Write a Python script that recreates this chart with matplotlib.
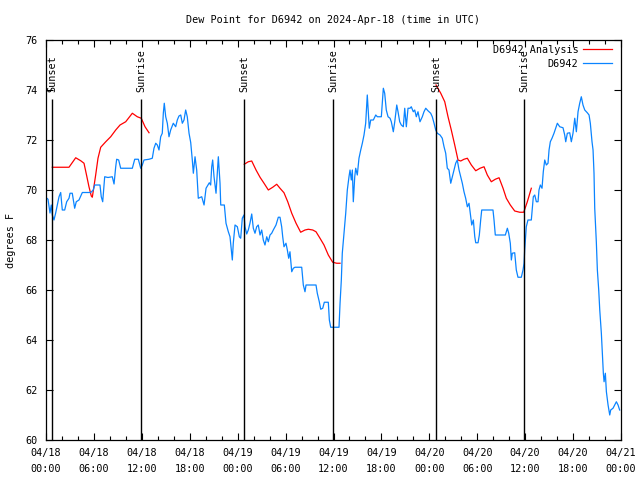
import matplotlib
matplotlib.use("Agg")
import matplotlib.pyplot as plt
from matplotlib.ticker import MultipleLocator

# ---- data (hours since 2024-04-18 00:00 UTC) ----
obs_hours = [0.0, 0.25, 0.38, 0.50, 0.66, 0.79, 1.00, 1.21, 1.42, 1.63, 1.84, 2.04, 2.34, 2.59, 2.88, 3.01, 3.29,
             3.59, 3.79, 4.13, 4.55, 5.60, 5.92, 6.10, 6.76, 6.92, 7.10, 7.35, 7.76, 8.30, 8.52, 8.73, 8.85, 9.10,
             9.35, 10.81, 11.11, 11.56, 11.86, 12.06, 12.27, 12.90, 13.31, 13.52, 13.74, 13.94, 14.15, 14.36,
             14.56, 14.69, 14.81, 14.99, 15.19, 15.40, 15.61, 15.94, 16.24, 16.44, 16.65, 16.87, 17.07, 17.28,
             17.49, 17.69, 17.91, 18.12, 18.32, 18.45, 18.66, 18.87, 19.07, 19.50, 19.79, 20.04, 20.45, 20.62,
             20.75, 20.87, 21.04, 21.29, 21.45, 21.58, 21.79, 21.88, 22.33, 22.54, 22.83, 23.04, 23.25, 23.33,
             23.45, 23.67, 23.96, 24.21, 24.38, 24.58, 24.79, 24.92, 25.13, 25.33, 25.54, 25.76, 25.96, 26.17,
             26.38, 26.58, 26.80, 27.01, 27.21, 27.42, 27.64, 27.84, 28.05, 28.26, 28.46, 28.80, 29.09, 29.30,
             29.51, 29.64, 29.80, 30.05, 30.22, 30.39, 30.55, 30.77, 30.97, 31.18, 32.02, 32.22, 32.43, 32.56,
             33.81, 33.97, 34.22, 34.40, 34.65, 34.85, 35.35, 35.48, 35.65, 36.69, 36.82, 36.98, 37.10, 37.32,
             37.53, 37.73, 37.94, 38.07, 38.23, 38.36, 38.48, 38.66, 38.78, 38.98, 39.19, 39.41, 39.61, 39.82,
             40.03, 40.23, 40.36, 40.48, 40.66, 40.99, 41.29, 41.49, 41.99, 42.11, 42.24, 42.41, 42.61, 42.83,
             43.08, 43.24, 43.49, 43.67, 43.92, 44.08, 44.29, 44.49, 44.74, 44.92, 45.12, 45.33, 45.58, 45.74,
             45.99, 46.17, 46.37, 46.58, 46.83, 47.12, 47.33, 47.55, 47.83, 48.17, 48.37, 48.59, 48.80, 49.00,
             49.34, 49.62, 49.84, 50.05, 50.25, 50.46, 50.68, 50.88, 51.09, 51.30, 51.50, 51.72, 51.93, 52.13,
             52.34, 52.55, 52.76, 52.97, 53.18, 53.31, 53.51, 53.69, 53.81, 54.10, 54.26, 54.43, 54.56, 55.97,
             56.10, 56.26, 57.52, 57.77, 57.94, 58.14, 58.27, 58.39, 58.69, 58.89, 59.10, 59.52, 59.73, 59.86,
             59.94, 60.14, 60.35, 60.77, 60.89, 61.02, 61.20, 61.40, 61.61, 61.73, 61.90, 62.11, 62.27, 62.45,
             62.65, 62.86, 62.99, 63.15, 63.36, 63.61, 63.82, 64.03, 64.33, 64.74, 64.95, 65.08, 65.28, 65.58,
             65.78, 65.99, 66.21, 66.41, 66.62, 66.83, 67.03, 67.24, 67.46, 67.78, 68.00, 68.16, 68.37, 68.50,
             68.62, 68.71, 68.91, 69.04, 69.21, 69.34, 69.54, 69.66, 69.79, 69.88, 70.04, 70.17, 70.38, 70.59,
             70.71, 71.00, 71.21, 71.42, 71.63, 71.83]
obs_dewpt = [69.7, 69.63, 69.33, 69.08, 69.4, 69.0, 68.8, 69.08, 69.4, 69.73, 69.9, 69.2, 69.2, 69.53, 69.67, 69.87,
             69.87, 69.27, 69.53, 69.6, 69.9, 69.9, 70.0, 70.2, 70.2, 69.73, 69.53, 70.53, 70.5, 70.53, 70.24, 70.93,
             71.23, 71.2, 70.87, 70.87, 71.23, 71.23, 70.87, 71.0, 71.2, 71.23, 71.27, 71.67, 71.87, 71.8, 71.6,
             72.13, 72.27, 73.07, 73.47, 72.93, 72.67, 72.13, 72.4, 72.67, 72.53, 72.8, 72.96, 73.0, 72.67, 72.8,
             73.2, 72.93, 72.27, 71.9, 71.2, 70.67, 71.33, 70.8, 69.67, 69.73, 69.4, 70.07, 70.29, 70.2, 70.93, 71.2,
             70.53, 69.87, 70.67, 71.33, 70.27, 69.4, 69.4, 68.67, 68.33, 68.13, 67.47, 67.2, 67.87, 68.6, 68.53,
             68.13, 68.07, 68.87, 69.0, 68.53, 68.24, 68.4, 68.67, 69.04, 68.47, 68.27, 68.53, 68.6, 68.2, 68.4,
             68.0, 67.8, 68.13, 67.93, 68.2, 68.27, 68.4, 68.6, 68.91, 68.91, 68.53, 68.13, 67.73, 67.87, 67.6,
             67.27, 67.53, 66.73, 66.87, 66.91, 66.91, 66.2, 65.93, 66.2, 66.2, 65.87, 65.53, 65.23, 65.27, 65.51,
             65.51, 64.8, 64.51, 64.51, 65.47, 66.4, 67.47, 68.27, 69.07, 70.0, 70.53, 70.8, 70.4, 70.8, 69.53,
             70.53, 70.87, 70.6, 71.27, 71.6, 71.87, 72.2, 72.67, 73.8, 73.07, 72.47, 72.8, 72.8, 73.0, 72.93, 72.93,
             73.47, 74.07, 73.87, 73.2, 72.93, 72.87, 72.73, 72.33, 72.73, 73.4, 73.13, 72.73, 72.6, 72.53, 73.27,
             72.53, 73.27, 73.27, 73.33, 73.13, 73.2, 72.93, 73.13, 72.73, 72.93, 73.13, 73.27, 73.17, 73.07, 72.93,
             72.67, 72.4, 72.27, 72.2, 72.07, 71.73, 71.47, 70.87, 70.8, 70.27, 70.53, 70.8, 71.07, 71.2, 70.8,
             70.53, 70.27, 69.93, 69.67, 69.33, 69.47, 68.93, 68.6, 68.8, 68.13, 67.89, 67.89, 68.2, 68.8, 69.2,
             69.2, 68.8, 68.2, 68.2, 68.47, 68.27, 67.87, 67.2, 67.47, 67.49, 66.8, 66.51, 66.51, 66.8, 67.07, 67.6,
             68.53, 68.8, 68.8, 69.27, 69.73, 69.8, 69.53, 69.53, 70.0, 70.2, 70.07, 70.73, 71.2, 71.0, 71.07, 71.6,
             71.93, 72.07, 72.27, 72.47, 72.67, 72.53, 72.49, 72.2, 71.93, 72.27, 72.29, 71.93, 72.27, 72.87, 72.33,
             73.13, 73.47, 73.73, 73.4, 73.2, 73.09, 73.0, 72.67, 71.93, 71.6, 70.67, 69.27, 67.93, 66.8, 66.0,
             65.2, 64.27, 63.47, 62.67, 62.33, 62.67, 61.93, 61.4, 61.0, 61.2, 61.27, 61.4, 61.53, 61.4, 61.2]

ana1_hours = [0.79, 2.88, 3.72, 4.35, 4.76, 5.10, 5.38, 5.67, 5.80, 6.22, 6.51, 6.85, 7.48, 8.10, 8.73, 9.27,
              9.98, 10.81, 11.43, 11.93, 12.40, 12.90]
ana1_dewpt = [70.91, 70.91, 71.29, 71.17, 71.07, 70.56, 70.13, 69.76, 69.71, 70.6, 71.27, 71.71, 71.93, 72.13,
              72.4, 72.6, 72.73, 73.07, 72.93, 72.87, 72.53, 72.29]
ana2_hours = [24.83, 25.33, 25.76, 26.30, 26.80, 27.30, 27.84, 28.39, 28.89, 29.30, 29.80, 30.27, 30.77, 31.31,
              31.89, 32.43, 32.85, 33.40, 33.81, 34.31, 34.81, 35.35, 35.90, 36.40, 36.82]
ana2_dewpt = [71.03, 71.13, 71.16, 70.8, 70.51, 70.27, 70.0, 70.11, 70.23, 70.07, 69.89, 69.53, 69.07, 68.67,
              68.31, 68.4, 68.43, 68.4, 68.33, 68.07, 67.8, 67.4, 67.11, 67.07, 67.07]
ana3_hours = [48.84, 49.43, 49.93, 50.34, 50.75, 51.18, 51.59, 51.93, 52.34, 52.76, 53.26, 53.81, 54.35, 54.85,
              55.26, 55.76, 56.26, 56.73, 57.23, 57.64, 58.14, 58.69, 59.32, 59.82, 60.27, 60.77]
ana3_dewpt = [74.2, 73.87, 73.53, 72.93, 72.4, 71.8, 71.2, 71.16, 71.23, 71.27, 71.0, 70.77, 70.87, 70.93, 70.6,
              70.33, 70.43, 70.49, 70.07, 69.67, 69.4, 69.16, 69.11, 69.11, 69.53, 70.07]

sun_hours = [0.79, 11.93, 24.83, 35.98, 48.87, 59.89]
sun_labels = ["Sunset", "Sunrise", "Sunset", "Sunrise", "Sunset", "Sunrise"]

xtick_hours = [0, 6, 12, 18, 24, 30, 36, 42, 48, 54, 60, 66, 72]
xtick_labels = ["04/18\n00:00", "04/18\n06:00", "04/18\n12:00", "04/18\n18:00",
                "04/19\n00:00", "04/19\n06:00", "04/19\n12:00", "04/19\n18:00",
                "04/20\n00:00", "04/20\n06:00", "04/20\n12:00", "04/20\n18:00",
                "04/21\n00:00"]
yticks = [60, 62, 64, 66, 68, 70, 72, 74, 76]

title = "Dew Point for D6942 on 2024-Apr-18 (time in UTC)"

# ---- figure ----
FONT = "DejaVu Sans Mono"
FS = 7.3
plt.rcParams["font.family"] = FONT
plt.rcParams["font.size"] = FS

fig = plt.figure(figsize=(6.4, 4.8), dpi=100)
ax = fig.add_axes([46 / 640, 1 - 440 / 480, 575 / 640, 400 / 480])

red = "#ff0000"
blue = "#0a84ff"

ax.plot(ana1_hours, ana1_dewpt, color=red, lw=0.9, label="D6942 Analysis")
ax.plot(ana2_hours, ana2_dewpt, color=red, lw=0.9)
ax.plot(ana3_hours, ana3_dewpt, color=red, lw=0.9)
ax.plot(obs_hours, obs_dewpt, color=blue, lw=0.9, label="D6942")

ax.vlines(sun_hours, 60, 73.65, color="black", lw=1.0)
for h, lab in zip(sun_hours, sun_labels):
    ax.text(h, 73.9, lab, rotation=90, ha="center", va="bottom", fontsize=FS)

ax.set_xlim(0, 72)
ax.set_ylim(60, 76)
ax.set_xticks(xtick_hours)
ax.set_xticklabels(xtick_labels, linespacing=1.7)
ax.xaxis.set_minor_locator(MultipleLocator(2))
ax.set_yticks(yticks)
ax.set_yticklabels([str(v) for v in yticks])

ax.tick_params(axis="both", which="major", direction="in", length=5, width=0.8,
               top=True, right=True, labelsize=FS, pad=6)
ax.tick_params(axis="x", which="minor", direction="in", length=3, width=0.8, top=True)
for s in ax.spines.values():
    s.set_linewidth(0.9)

ax.set_ylabel("degrees F", fontsize=FS, labelpad=7)
fig.text(333 / 640, 1 - 20 / 480, title, ha="center", va="center", fontsize=FS)

leg = ax.legend(loc="upper right", bbox_to_anchor=(0.9878, 0.9925), frameon=False,
                markerfirst=False, fontsize=FS, handlelength=2.9, handletextpad=0.4,
                labelspacing=0.35, borderaxespad=0.0, borderpad=0.2)

fig.savefig("out.png", dpi=100)
